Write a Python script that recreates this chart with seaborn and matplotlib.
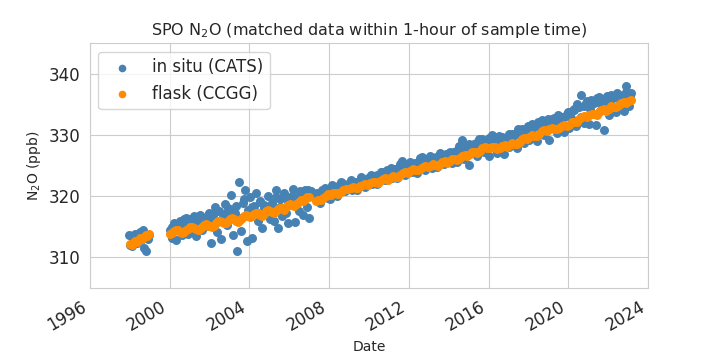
import matplotlib
matplotlib.use("Agg")
import matplotlib.pyplot as plt
import matplotlib.dates as mdates
import numpy as np
import pandas as pd
import seaborn as sns

# in situ (CATS) N2O, ppb
cats_1998 = [313.6, 312.0, 311.8, 312.8, 313.9, 312.4, 313.2, 314.2,
             312.9, 314.5, 311.5, 311.1, 313.0, 313.7]
cats_2000 = [
    314.5, 313.2, 315.6, 312.8, 314.9, 316.0, 313.6, 315.2, 316.4, 313.9,
    316.2, 314.1, 316.8, 313.5, 315.9, 317.0, 314.4, 316.5, 315.1, 317.3,
    312.3, 316.7, 318.2, 314.2, 317.6, 313.0, 316.9, 318.8, 315.3, 317.9,
    320.2, 313.6, 317.2, 311.0, 322.4, 314.3, 318.9, 321.0, 312.6, 319.8,
    313.2, 318.4, 320.6, 316.0, 319.2, 314.8, 318.0, 317.4, 320.0, 316.3,
    318.9, 316.0, 321.0, 314.8, 319.6, 316.8, 320.2, 317.2, 315.6, 319.5,
    321.2, 315.8, 319.8, 317.6, 320.7, 316.9, 321.0, 318.2, 316.4, 320.8,
]
cats_2000b = [
    315.0, 315.5, 314.6, 316.2, 315.4,
    316.0, 315.3, 316.6, 315.8, 316.9,
    316.4, 317.5, 316.0, 317.1, 318.0,
    317.2, 318.4, 316.5, 319.5, 317.8,
    318.3, 317.4, 319.1, 318.6, 317.8,
    318.7, 319.9, 318.2, 320.5, 319.2,
    320.0, 319.4, 320.9, 319.8, 321.0,
]
cats_2007 = [
    319.8, 320.6, 318.9, 320.4, 321.3, 320.2, 319.6, 321.8,
    321.4, 320.1, 321.6, 322.2, 320.8, 321.9, 322.1, 321.0,
    322.3, 321.0, 322.5, 322.8, 321.5, 322.6, 323.0, 322.0,
    323.3, 322.0, 323.4, 323.9, 322.6, 323.7, 324.1, 322.9,
    324.4, 323.0, 324.2, 325.8, 323.5, 324.9, 325.2, 323.9,
    325.5, 323.8, 325.3, 326.4, 324.3, 326.0, 325.6, 324.6,
    326.3, 324.7, 326.1, 326.7, 325.2, 326.6, 327.0, 325.4,
    327.2, 325.6, 327.5, 329.2, 326.0, 327.9, 325.1, 328.3,
    328.5, 326.5, 328.8, 329.4, 327.3, 329.0, 326.6, 330.0,
    329.2, 327.0, 328.9, 329.6, 326.9, 329.4, 328.0, 330.1,
    330.0, 327.9, 330.3, 331.0, 328.7, 331.2, 329.2, 331.8,
    331.3, 329.1, 331.9, 332.4, 330.0, 332.2, 329.2, 332.6,
    332.7, 330.3, 332.4, 333.0, 330.5, 333.4, 331.2, 334.0,
    334.2, 331.5, 334.5, 336.5, 332.0, 335.2, 331.8, 335.8,
    335.4, 331.6, 336.2, 335.0, 330.8, 336.0, 333.2, 336.6,
    336.3, 333.8, 336.5, 335.6, 334.0, 338.0, 334.8, 336.8,
]
cats_2007b = [
    320.1, 321.0, 320.5, 319.7, 321.5, 320.9,
    321.6, 322.3, 321.2, 322.0, 322.6, 321.8,
    322.4, 323.1, 322.2, 322.9, 323.4, 322.7,
    323.5, 324.0, 323.1, 324.3, 324.6, 323.6,
    324.5, 325.2, 324.0, 325.0, 325.6, 324.8,
    325.4, 326.2, 325.1, 325.8, 326.5, 325.6,
    326.4, 327.0, 325.8, 326.9, 327.3, 326.4,
    327.4, 328.2, 326.8, 328.0, 328.6, 327.5,
    328.7, 329.3, 327.6, 328.9, 329.5, 328.3,
    329.0, 329.8, 328.2, 329.5, 330.2, 329.1,
    330.1, 330.9, 329.4, 330.7, 331.5, 330.3,
    331.4, 332.2, 330.6, 331.9, 332.6, 331.3,
    332.3, 333.2, 331.5, 332.9, 333.8, 332.8,
    334.1, 335.0, 333.0, 334.8, 335.6, 334.2,
    335.2, 336.0, 334.0, 335.5, 336.3, 335.0,
    336.0, 336.9, 335.2, 336.4, 337.0, 336.2,
]

# flask (CCGG) N2O, ppb
ccgg_1998 = [312.2, 312.0, 312.4, 312.6, 312.5, 312.9, 313.1, 313.0,
             313.4, 313.6, 313.5, 313.8]
ccgg_2000 = [
    313.8, 314.0, 314.3, 314.5, 314.4, 314.2, 314.0, 314.1, 314.4, 314.7,
    314.9, 315.0, 314.8, 314.6, 314.5, 314.7, 315.0, 315.3, 315.4, 315.2,
    315.1, 314.9, 315.2, 315.6, 315.9, 316.0, 315.8, 315.6, 315.7, 316.0,
    316.3, 316.5, 316.3, 316.0, 315.8, 316.1, 316.5, 316.8, 316.9, 316.7,
    316.6, 316.8, 317.1, 317.3, 317.2, 316.9, 316.8, 317.1, 317.5, 317.7,
    317.6, 317.4, 317.2, 317.5, 317.9, 318.1, 318.0, 317.8, 318.2, 318.5,
    318.7, 318.6, 318.4, 318.8, 319.1, 319.3, 319.2, 319.5, 319.8, 319.9,
]
ccgg_2007 = [
    319.2, 319.4, 319.3, 319.7, 320.0, 320.3, 320.2, 320.5,
    320.6, 320.4, 320.7, 321.0, 321.2, 321.1, 321.3, 321.5,
    321.4, 321.3, 321.6, 321.9, 322.0, 321.8, 322.1, 322.4,
    322.3, 322.2, 322.5, 322.8, 322.9, 322.7, 323.0, 323.3,
    323.2, 323.1, 323.5, 323.8, 324.0, 323.8, 324.1, 324.4,
    324.3, 324.2, 324.5, 324.8, 324.9, 324.7, 324.9, 325.2,
    325.1, 325.0, 325.3, 325.6, 325.7, 325.5, 325.8, 326.1,
    326.0, 325.9, 326.3, 326.6, 326.8, 326.6, 326.9, 327.3,
    327.2, 327.1, 327.4, 327.8, 328.0, 327.8, 327.9, 328.1,
    328.0, 327.7, 327.9, 328.2, 328.3, 328.1, 328.4, 328.7,
    328.6, 328.5, 328.9, 329.3, 329.5, 329.4, 329.7, 330.0,
    329.9, 329.8, 330.2, 330.6, 330.8, 330.6, 330.9, 331.2,
    331.0, 330.9, 331.2, 331.5, 331.6, 331.4, 331.7, 332.1,
    332.1, 332.2, 332.6, 333.0, 333.1, 332.9, 333.2, 333.5,
    333.4, 333.3, 333.7, 334.1, 334.2, 334.0, 334.3, 334.7,
    334.6, 334.6, 334.9, 335.2, 335.4, 335.3, 335.5, 335.8,
]


def _segment(values, start, end):
    """Spread a run of samples between its first and last sample date."""
    dates = pd.date_range(start, end, periods=len(values))
    return pd.DataFrame({"date": dates, "n2o": values})


cats = pd.concat([
    _segment(cats_1998, "1997-12-10", "1998-12-20"),
    _segment(cats_2000, "2000-01-01", "2007-02-01"),
    _segment(cats_2000b, "2000-02-15", "2006-12-01"),
    _segment(cats_2007, "2007-04-15", "2023-03-01"),
    _segment(cats_2007b, "2007-06-20", "2023-02-01"),
])
ccgg = pd.concat([
    _segment(ccgg_1998, "1998-01-01", "1998-12-20"),
    _segment(ccgg_2000, "2000-01-01", "2006-12-20"),
    _segment(ccgg_2007, "2007-05-01", "2023-03-01"),
])

sns.set_style("whitegrid")
fig, ax = plt.subplots(figsize=(7.2, 3.6), dpi=100)

sns.scatterplot(data=cats, x="date", y="n2o", color="steelblue", s=42,
                linewidth=0, label="in situ (CATS)", ax=ax)
sns.scatterplot(data=ccgg, x="date", y="n2o", color="darkorange", s=42,
                linewidth=0, label="flask (CCGG)", ax=ax)

ax.set_xlim(pd.Timestamp("1996-01-01"), pd.Timestamp("2024-01-01"))
ax.set_ylim(305, 345)
ax.set_yticks([310, 320, 330, 340])
ax.xaxis.set_major_locator(mdates.YearLocator(4))
ax.xaxis.set_major_formatter(mdates.DateFormatter("%Y"))
ax.tick_params(labelsize=12)

ax.set_title("SPO N$_2$O (matched data within 1-hour of sample time)", fontsize=11.5)
ax.set_xlabel("Date", fontsize=10)
ax.set_ylabel("N$_2$O (ppb)", fontsize=10)
ax.legend(loc="upper left", fontsize=12, markerscale=0.85)

fig.autofmt_xdate()
fig.savefig("out.png", dpi=100)
plt.close(fig)
